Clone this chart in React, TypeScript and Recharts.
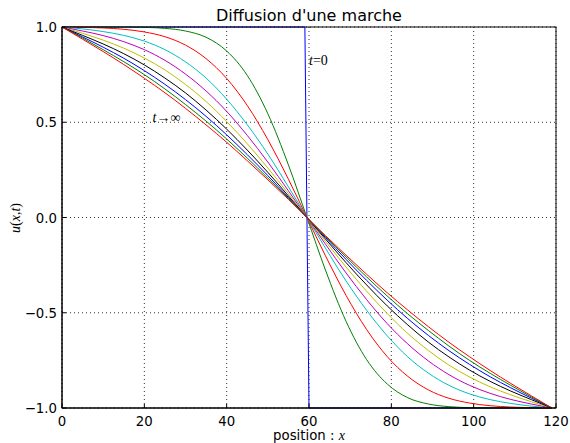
import { ComposedChart, Line, XAxis, YAxis, CartesianGrid, ReferenceDot } from 'recharts';

// positions along the bar (grid points), symmetric about the step at 59.5
const xs = [0, 5, 10, 15, 20, 25, 30, 35, 40, 45, 50, 55, 59.5, 64, 69, 74, 79, 84, 89, 94, 99, 104, 109, 114, 119];

// initial step, t = 0
const stepX = [0, 59, 60, 119];
const stepU = [1, 1, -1, -1];

// successive profiles u(x, t)
const uGreen1 = [1, 1, 1, 0.9995, 0.998, 0.993, 0.979, 0.946, 0.874, 0.746, 0.545, 0.276, 0, -0.276, -0.545, -0.746, -0.874, -0.946, -0.979, -0.993, -0.998, -0.9995, -1, -1, -1];
const uRed1 = [1, 0.998, 0.995, 0.988, 0.974, 0.949, 0.905, 0.834, 0.73, 0.588, 0.409, 0.201, 0, -0.201, -0.409, -0.588, -0.73, -0.834, -0.905, -0.949, -0.974, -0.988, -0.995, -0.998, -1];
const uCyan = [1, 0.99, 0.976, 0.956, 0.926, 0.881, 0.817, 0.732, 0.621, 0.487, 0.333, 0.161, 0, -0.161, -0.333, -0.487, -0.621, -0.732, -0.817, -0.881, -0.926, -0.956, -0.976, -0.99, -1];
const uMagenta = [1, 0.979, 0.955, 0.923, 0.881, 0.825, 0.753, 0.664, 0.557, 0.431, 0.291, 0.14, 0, -0.14, -0.291, -0.431, -0.557, -0.664, -0.753, -0.825, -0.881, -0.923, -0.955, -0.979, -1];
const uYellow = [1, 0.967, 0.931, 0.889, 0.837, 0.775, 0.698, 0.609, 0.504, 0.387, 0.26, 0.125, 0, -0.125, -0.26, -0.387, -0.504, -0.609, -0.698, -0.775, -0.837, -0.889, -0.931, -0.967, -1];
const uBlack = [1, 0.956, 0.911, 0.86, 0.801, 0.732, 0.654, 0.564, 0.464, 0.354, 0.237, 0.113, 0, -0.113, -0.237, -0.354, -0.464, -0.564, -0.654, -0.732, -0.801, -0.86, -0.911, -0.956, -1];
const uBlue2 = [1, 0.948, 0.894, 0.836, 0.771, 0.699, 0.619, 0.531, 0.434, 0.33, 0.22, 0.105, 0, -0.105, -0.22, -0.33, -0.434, -0.531, -0.619, -0.699, -0.771, -0.836, -0.894, -0.948, -1];
const uGreen2 = [1, 0.942, 0.881, 0.818, 0.75, 0.675, 0.593, 0.506, 0.412, 0.312, 0.207, 0.1, 0, -0.1, -0.207, -0.312, -0.412, -0.506, -0.593, -0.675, -0.75, -0.818, -0.881, -0.942, -1];
const uRed2 = [1, 0.936, 0.871, 0.803, 0.731, 0.655, 0.573, 0.486, 0.395, 0.298, 0.198, 0.095, 0, -0.095, -0.198, -0.298, -0.395, -0.486, -0.573, -0.655, -0.731, -0.803, -0.871, -0.936, -1];

const xTicks = [0, 20, 40, 60, 80, 100, 120];
const yTicks = [-1, -0.5, 0, 0.5, 1];

const rows = (x: number[], u: number[]) => x.map((v, i) => ({ x: v, u: u[i] }));

const series = [
  { key: 'step', data: rows(stepX, stepU), color: '#0000ff', type: 'linear' },
  { key: 'g1', data: rows(xs, uGreen1), color: '#008000', type: 'monotone' },
  { key: 'r1', data: rows(xs, uRed1), color: '#ff0000', type: 'monotone' },
  { key: 'c1', data: rows(xs, uCyan), color: '#00bfbf', type: 'monotone' },
  { key: 'm1', data: rows(xs, uMagenta), color: '#bf00bf', type: 'monotone' },
  { key: 'y1', data: rows(xs, uYellow), color: '#bfbf00', type: 'monotone' },
  { key: 'k1', data: rows(xs, uBlack), color: '#000000', type: 'monotone' },
  { key: 'b2', data: rows(xs, uBlue2), color: '#0000ff', type: 'monotone' },
  { key: 'g2', data: rows(xs, uGreen2), color: '#008000', type: 'monotone' },
  { key: 'r2', data: rows(xs, uRed2), color: '#ff0000', type: 'monotone' },
];

const SANS = 'DejaVu Sans, sans-serif';
const SERIF = 'Liberation Serif, DejaVu Serif, serif';
const TICK_SIZE = 13.3;

// plot box, used only to draw the frame above the curves (matplotlib draws spines on top)
const BOX = { left: 62, top: 27, right: 556, bottom: 408 };

const fmtY = (v: number) => v.toFixed(1).replace('-', '\u2212');

function BottomTick({ x, y, payload }: any) {
  return (
    <g>
      <line x1={x} x2={x} y1={y} y2={y - 4} stroke="#000" />
      <text x={x} y={y + 18} textAnchor="middle" fontFamily={SANS} fontSize={TICK_SIZE} fill="#000">
        {payload.value}
      </text>
    </g>
  );
}

function TopTick({ x, y }: any) {
  return <line x1={x} x2={x} y1={y} y2={y + 4} stroke="#000" />;
}

function LeftTick({ x, y, payload }: any) {
  return (
    <g>
      <line x1={x} x2={x + 4} y1={y} y2={y} stroke="#000" />
      <text x={x - 5} y={y + 5} textAnchor="end" fontFamily={SANS} fontSize={TICK_SIZE} fill="#000">
        {fmtY(payload.value)}
      </text>
    </g>
  );
}

function RightTick({ x, y }: any) {
  return <line x1={x - 4} x2={x} y1={y} y2={y} stroke="#000" />;
}

const noteT0 = (p: any) => (
  <text x={p.cx} y={p.cy} fontFamily={SERIF} fontSize={14} fill="#000">
    <tspan fontStyle="italic">t</tspan>
    <tspan>=0</tspan>
  </text>
);

const noteInf = (p: any) => (
  <text x={p.cx} y={p.cy} fontFamily={SERIF} fontSize={14} fill="#000">
    <tspan fontStyle="italic">t</tspan>
    <tspan>{'\u2192\u221e'}</tspan>
  </text>
);

export default function App() {
  return (
    <div style={{ position: 'absolute', left: 0, top: 0, width: 570, height: 443, background: '#fff' }}>
      <ComposedChart width={570} height={443} margin={{ top: 27, right: 14, bottom: 0, left: 0 }}>
        <CartesianGrid stroke="#000" strokeWidth={0.8} strokeDasharray="1 3" />
        <XAxis
          dataKey="x"
          type="number"
          domain={[0, 120]}
          ticks={xTicks}
          height={35}
          tickSize={0}
          tickMargin={0}
          tickLine={false}
          axisLine={{ stroke: '#000' }}
          tick={<BottomTick />}
          interval={0}
        />
        <XAxis
          xAxisId="top"
          orientation="top"
          dataKey="x"
          type="number"
          domain={[0, 120]}
          ticks={xTicks}
          height={0}
          tickSize={0}
          tickMargin={0}
          tickLine={false}
          axisLine={{ stroke: '#000' }}
          tick={<TopTick />}
          interval={0}
        />
        <YAxis
          type="number"
          domain={[-1, 1]}
          ticks={yTicks}
          width={62}
          tickSize={0}
          tickMargin={0}
          tickLine={false}
          axisLine={{ stroke: '#000' }}
          tick={<LeftTick />}
          interval={0}
        />
        <YAxis
          yAxisId="right"
          orientation="right"
          type="number"
          domain={[-1, 1]}
          ticks={yTicks}
          width={0}
          tickSize={0}
          tickMargin={0}
          tickLine={false}
          axisLine={{ stroke: '#000' }}
          tick={<RightTick />}
          interval={0}
        />
        {series.map((s) => (
          <Line
            key={s.key}
            data={s.data}
            dataKey="u"
            type={s.type as any}
            stroke={s.color}
            strokeWidth={1}
            dot={false}
            activeDot={false}
            isAnimationActive={false}
          />
        ))}
        <ReferenceDot x={60} y={0.8} r={0} shape={noteT0} />
        <ReferenceDot x={22} y={0.5} r={0} shape={noteInf} />
      </ComposedChart>
      <svg width={570} height={443} style={{ position: 'absolute', left: 0, top: 0, pointerEvents: 'none' }}>
        <rect
          x={BOX.left}
          y={BOX.top}
          width={BOX.right - BOX.left}
          height={BOX.bottom - BOX.top}
          fill="none"
          stroke="#000"
          strokeWidth={1}
        />
        <text x={309} y={21} textAnchor="middle" fontFamily={SANS} fontSize={16} fill="#000">
          Diffusion d'une marche
        </text>
        <text x={309} y={440} textAnchor="middle" fontSize={TICK_SIZE} fill="#000">
          <tspan fontFamily={SANS}>position : </tspan>
          <tspan fontFamily={SERIF} fontStyle="italic" fontSize={14}>x</tspan>
        </text>
        <text x={20} y={218} transform="rotate(-90 20 218)" textAnchor="middle" fontFamily={SERIF} fontSize={14} fill="#000">
          <tspan fontStyle="italic">u</tspan>
          <tspan>(</tspan>
          <tspan fontStyle="italic">x</tspan>
          <tspan>,</tspan>
          <tspan fontStyle="italic">t</tspan>
          <tspan>)</tspan>
        </text>
      </svg>
    </div>
  );
}
